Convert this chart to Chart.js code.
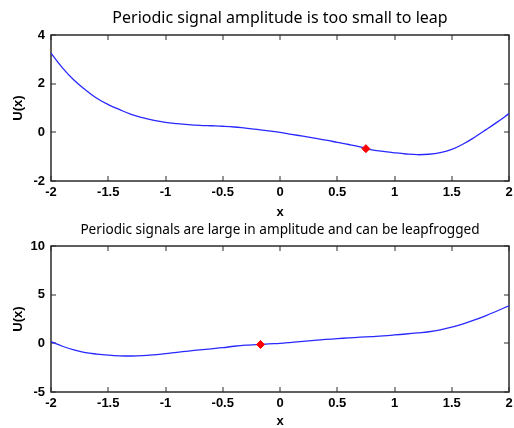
<!DOCTYPE html>
<html>
<head>
<meta charset="utf-8">
<script src="https://cdn.jsdelivr.net/npm/chart.js@4.4.1/dist/chart.umd.min.js"></script>
<style>
    html, body { margin: 0; padding: 0; background: #fff; overflow: hidden; }
    #wrap { position: relative; width: 514px; height: 428px; overflow: hidden; }
    canvas { position: absolute; left: 0; }
    #top-chart { top: 0; }
    #bottom-chart { top: 214px; }
</style>
</head>
<body>
<div id="wrap">
    <canvas id="top-chart" width="514" height="222"></canvas>
    <canvas id="bottom-chart" width="514" height="216"></canvas>
</div>
<script>
// sample positions shared by both potentials
const xValues = [
    -2.0, -1.9, -1.8, -1.7, -1.6, -1.5, -1.4, -1.3, -1.2, -1.1,
    -1.0, -0.9, -0.8, -0.7, -0.6, -0.5, -0.4, -0.3, -0.2, -0.1,
    0.0, 0.1, 0.2, 0.3, 0.4, 0.5, 0.6, 0.7, 0.8, 0.9,
    1.0, 1.1, 1.2, 1.3, 1.4, 1.5, 1.6, 1.7, 1.8, 1.9, 2.0
];

// U(x) when the periodic drive is small
const smallSignalU = [
    3.25, 2.65, 2.15, 1.75, 1.40, 1.14, 0.93, 0.74, 0.60, 0.49,
    0.41, 0.36, 0.32, 0.29, 0.27, 0.25, 0.22, 0.17, 0.12, 0.06,
    0.00, -0.08, -0.16, -0.24, -0.32, -0.41, -0.50, -0.60, -0.72, -0.78,
    -0.84, -0.89, -0.92, -0.90, -0.83, -0.70, -0.48, -0.20, 0.11, 0.43, 0.77
];

// U(x) when the periodic drive is large
const largeSignalU = [
    0.17, -0.30, -0.68, -0.95, -1.10, -1.21, -1.28, -1.30, -1.27, -1.18,
    -1.06, -0.92, -0.79, -0.67, -0.56, -0.45, -0.30, -0.19, -0.13, -0.05,
    0.00, 0.10, 0.21, 0.31, 0.40, 0.48, 0.56, 0.63, 0.70, 0.77,
    0.86, 0.96, 1.07, 1.19, 1.38, 1.66, 2.00, 2.40, 2.85, 3.35, 3.86
];

// particle position on each curve
const smallParticle = [0.75, -0.67];
const largeParticle = [-0.17, -0.12];

const topTitle = 'Periodic signal amplitude is too small to leap';
const bottomTitle = 'Periodic signals are large in amplitude and can be leapfrogged';

const tickFont = {family: 'Liberation Sans, Arial, sans-serif', size: 13, weight: 'bold'};

// box around the axes with short inward ticks on all four sides
const framePlugin = {
    id: 'frame',
    beforeDatasetsDraw(chart) {
        const {ctx, chartArea: a, scales} = chart;
        ctx.save();
        ctx.strokeStyle = '#2b2b2b';
        ctx.lineWidth = 1.5;
        ctx.strokeRect(a.left, a.top, a.width, a.height);
        ctx.beginPath();
        for (const t of scales.x.ticks) {
            const px = Math.round(scales.x.getPixelForValue(t.value));
            ctx.moveTo(px, a.bottom);
            ctx.lineTo(px, a.bottom - 5);
            ctx.moveTo(px, a.top);
            ctx.lineTo(px, a.top + 5);
        }
        for (const t of scales.y.ticks) {
            const py = Math.round(scales.y.getPixelForValue(t.value));
            ctx.moveTo(a.left, py);
            ctx.lineTo(a.left + 5, py);
            ctx.moveTo(a.right, py);
            ctx.lineTo(a.right - 5, py);
        }
        ctx.lineWidth = 1;
        ctx.stroke();
        ctx.restore();
    }
};

const plainNumber = (value) => String(Number(value.toFixed(2)));

function makeChart(id, cfg) {
    const points = xValues.map((x, i) => ({x, y: cfg.values[i]}));

    return new Chart(document.getElementById(id), {
        type: 'line',
        data: {
            datasets: [{
                // first dataset is painted last, so the particle sits on the curve
                data: [{x: cfg.particle[0], y: cfg.particle[1]}],
                showLine: false,
                pointStyle: 'rectRot',
                pointRadius: 4,
                pointBackgroundColor: 'rgb(255, 0, 0)',
                pointBorderColor: 'rgb(255, 0, 0)',
                pointBorderWidth: 1,
            }, {
                data: points,
                borderColor: 'rgb(40, 40, 255)',
                borderWidth: 1.3,
                pointRadius: 0,
                tension: 0.4,
            }]
        },
        options: {
            responsive: false,
            animation: false,
            devicePixelRatio: 1,
            layout: {padding: {left: 0, right: 0, top: 0, bottom: 0}},
            plugins: {
                legend: {display: false},
                tooltip: {enabled: false},
                title: {
                    display: true,
                    text: cfg.title,
                    fullSize: false,
                    color: '#000',
                    font: {family: 'Noto Sans, sans-serif', size: cfg.titleSize, weight: 'normal'},
                    padding: cfg.titlePadding,
                },
            },
            scales: {
                x: {
                    type: 'linear',
                    min: -2,
                    max: 2,
                    // hidden tick marks keep the label gap without widening the right margin
                    grid: {display: false, drawTicks: true, tickLength: 4},
                    border: {display: false},
                    ticks: {stepSize: 0.5, autoSkip: false, maxRotation: 0, padding: 0, color: '#000', font: tickFont, callback: plainNumber},
                    title: {display: true, text: 'x', color: '#000', font: tickFont, padding: {top: 0, bottom: cfg.xTitlePad}},
                    afterFit(scale) { scale.height = cfg.xAxisHeight; },
                },
                y: {
                    min: cfg.yMin,
                    max: cfg.yMax,
                    grid: {display: false, drawTicks: false},
                    border: {display: false},
                    ticks: {stepSize: cfg.yStep, autoSkip: false, padding: 6, color: '#000', font: tickFont, callback: plainNumber},
                    title: {display: true, text: 'U(x)', color: '#000', font: tickFont, padding: {top: 11, bottom: 0}},
                    afterFit(scale) { scale.width = 51; },
                },
            },
        },
        plugins: [framePlugin],
    });
}

makeChart('top-chart', {
    values: smallSignalU,
    particle: smallParticle,
    title: topTitle,
    titleSize: 16,
    titlePadding: {top: 9.1, bottom: 6.7},
    yMin: -2, yMax: 4, yStep: 2,
    xAxisHeight: 41,
    xTitlePad: 2,
});

makeChart('bottom-chart', {
    values: largeSignalU,
    particle: largeParticle,
    title: bottomTitle,
    titleSize: 13.6,
    titlePadding: {top: 8.1, bottom: 7.6},
    yMin: -5, yMax: 10, yStep: 5,
    xAxisHeight: 38,
    xTitlePad: 0.5,
});
</script>
</body>
</html>
